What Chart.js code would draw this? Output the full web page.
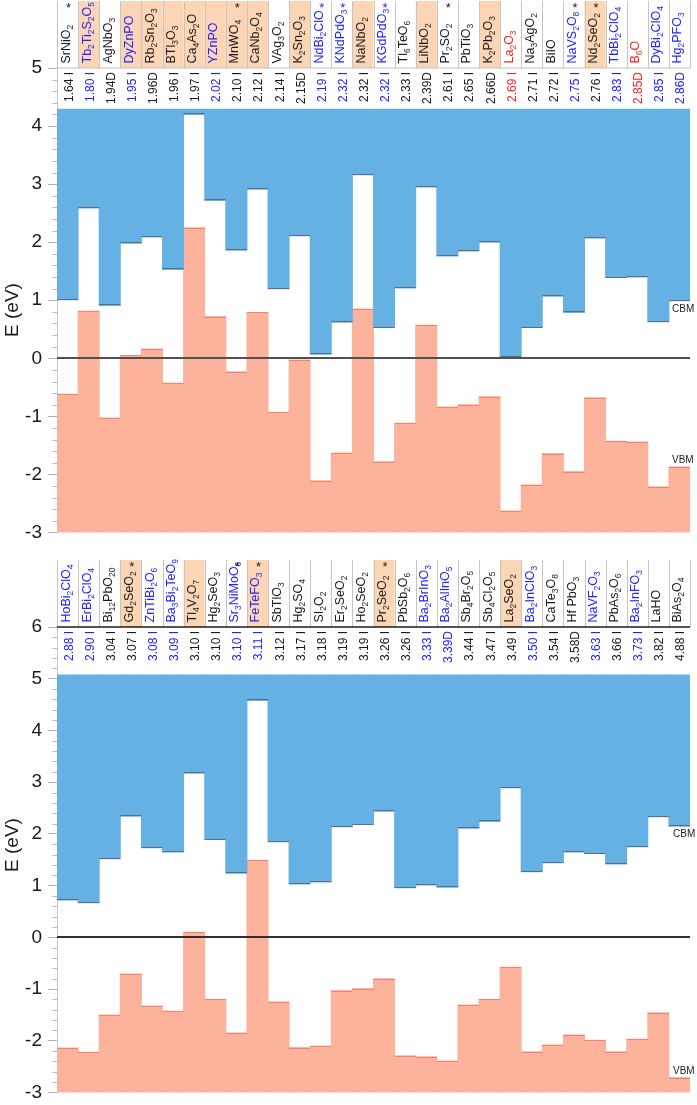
<!DOCTYPE html>
<html>
<head>
<meta charset="utf-8">
<script src="https://cdn.jsdelivr.net/npm/chart.js@4.4.1/dist/chart.umd.min.js"></script>
<style>
  html, body { margin: 0; padding: 0; background: #fff; overflow: hidden; }
  canvas { display: block; }
</style>
</head>
<body>
<canvas id="chartTop" width="697" height="548"></canvas>
<canvas id="chartBot" width="697" height="560"></canvas>
<script>
// panel 1: materials sorted by band gap
const namesTop = ["SrNiO2","Tb2Ti2S2O5","AgNbO3","DyZnPO","Rb2Sn2O3","BTl3O3","Ca4As2O","YZnPO","MnWO4","CaNb2O4",
  "VAg3O2","K2Sn2O3","NdBi2ClO","KNdPdO3","NaNbO2","KGdPdO3","Tl6TeO6","LiNbO2","Pr2SO2","PbTiO3",
  "K2Pb2O3","La2O3","Na3AgO2","BiIO","NaVS2O8","Nd2SeO2","TbBi2ClO4","B6O","DyBi2ClO4","Hg2PFO3"];
const gapTop = [1.64,1.80,1.94,1.95,1.96,1.96,1.97,2.02,2.10,2.12,2.14,2.15,2.19,2.32,2.32,2.32,2.33,2.39,2.61,2.65,
  2.66,2.69,2.71,2.72,2.75,2.76,2.83,2.85,2.85,2.86];
const gapTypeTop = ["I","I","D","I","D","I","I","I","I","I","I","D","I","I","I","I","I","D","I","I",
  "D","I","I","I","I","I","I","D","I","D"];
const cbmTop = [1.01,2.59,0.91,1.98,2.09,1.53,4.20,2.72,1.86,2.91,1.20,2.11,0.07,0.62,3.16,0.53,1.21,2.95,1.76,1.85,
  2.00,0.03,0.53,1.07,0.79,2.07,1.39,1.40,0.63,0.99];
const vbmTop = [-0.62,0.81,-1.03,0.05,0.16,-0.43,2.25,0.72,-0.23,0.79,-0.93,-0.03,-2.11,-1.63,0.85,-1.78,-1.12,0.57,-0.84,-0.80,
  -0.66,-2.63,-2.18,-1.64,-1.95,-0.68,-1.43,-1.44,-2.21,-1.87];
const groupTop = ["k","b","k","b","k","k","k","b","k","k","k","k","b","b","k","b","k","k","k","k",
  "k","r","k","k","b","k","b","r","b","b"];
const shadedTop = [0,1,0,1,1,1,1,1,1,1,0,1,0,0,1,0,0,1,0,0,1,0,0,0,0,1,0,0,0,0];
const starTop = ["k","","","","","","","","k","","","","b","b","","b","","","k","","","","","","k","k","","","",""];
const ticksTop = [-3,-2,-1,0,1,2,3,4,5];

// panel 2
const namesBot = ["HoBi2ClO4","ErBi2ClO4","Bi12PbO20","Gd2SeO2","ZnTiBi2O6","Ba3Bi2TeO9","Tl4V2O7","Hg2SeO3","Sr3NiMoO6","FeTeFO3",
  "SbTlO3","Hg2SO4","SI2O2","Er2SeO2","Ho2SeO2","Pr2SeO2","PbSb2O6","Ba2BrInO3","Ba2AlInO5","Sb4Br2O5",
  "Sb4Cl2O5","La2SeO2","Ba2InClO3","CaTe3O8","Hf PbO3","NaVF2O3","PbAs2O6","Ba2InFO3","LaHO","BiAs2O4"];
const gapBot = [2.88,2.90,3.04,3.07,3.08,3.09,3.10,3.10,3.10,3.11,3.12,3.17,3.18,3.19,3.19,3.26,3.26,3.33,3.39,3.44,
  3.47,3.49,3.50,3.54,3.58,3.63,3.66,3.73,3.82,4.88];
const gapTypeBot = ["I","I","I","I","I","I","I","I","I","I","I","I","I","I","I","I","I","I","D","I",
  "I","I","I","I","D","I","I","I","I","I"];
const cbmBot = [0.72,0.67,1.52,2.34,1.73,1.65,3.17,1.89,1.24,4.58,1.85,1.03,1.07,2.14,2.18,2.44,0.96,1.01,0.97,2.11,
  2.24,2.89,1.27,1.44,1.65,1.62,1.42,1.75,2.33,2.15];
const vbmBot = [-2.14,-2.22,-1.50,-0.71,-1.33,-1.43,0.10,-1.20,-1.85,1.49,-1.25,-2.13,-2.10,-1.03,-0.99,-0.80,-2.29,-2.31,-2.39,-1.31,
  -1.20,-0.58,-2.21,-2.08,-1.89,-1.99,-2.21,-1.97,-1.46,-2.71];
const groupBot = ["b","b","k","k","b","b","k","k","b","b","k","k","k","k","k","k","k","b","b","k",
  "k","k","b","k","k","b","k","b","k","k"];
const shadedBot = [0,0,0,1,0,0,1,0,0,1,0,0,0,0,0,1,0,0,0,0,0,1,0,0,0,0,0,0,0,0];
const starBot = ["","","","k","","","","","k","k","","","","","","k","","","","","","","","","","","","","",""];
const ticksBot = [-3,-2,-1,0,1,2,3,4,5,6];

const FONT = '"Liberation Sans", Arial, Helvetica, sans-serif';
const INK = { k: "#1a1a1a", b: "#2222ff", r: "#ff1e1e" };
const BLUE = "#66b1e3";
const SALMON = "#fdb29b";

// chemical formula, digits as subscripts, reading bottom to top
function drawFormula(ctx, text, xb, yb, color) {
    ctx.save();
    ctx.translate(xb, yb);
    ctx.rotate(-Math.PI / 2);
    ctx.fillStyle = color;
    ctx.textAlign = "left";
    ctx.textBaseline = "alphabetic";
    let pos = 0;
    text.match(/\d+|\D+/g).forEach(part => {
        const sub = /^\d+$/.test(part);
        ctx.font = (sub ? "8.5px " : "12.5px ") + FONT;
        ctx.fillText(part, pos, sub ? 3 : 0);
        pos += ctx.measureText(part).width;
    });
    ctx.restore();
}

function hline(ctx, x1, x2, y) {
    ctx.beginPath();
    ctx.moveTo(x1, y);
    ctx.lineTo(x2, y);
    ctx.stroke();
}

function decor(o) {
    return {
        id: "decor",
        afterDatasetsDraw(chart) {
            const ctx = chart.ctx, a = chart.chartArea, y = chart.scales.y;
            ctx.save();
            ctx.lineWidth = 1;
            // band edge lines, taken from the bar elements
            ctx.strokeStyle = "#5b6f80";
            chart.getDatasetMeta(0).data.forEach(el => {
                const yy = Math.round(Math.max(el.y, el.base)) - 0.5;
                hline(ctx, el.x - el.width / 2, el.x + el.width / 2, yy);
            });
            ctx.strokeStyle = "#f2846e";
            chart.getDatasetMeta(1).data.forEach(el => {
                const yy = Math.round(Math.min(el.y, el.base)) + 0.5;
                hline(ctx, el.x - el.width / 2, el.x + el.width / 2, yy);
            });
            // zero line
            ctx.strokeStyle = o.zeroColor;
            ctx.lineWidth = 2;
            hline(ctx, a.left, a.right, Math.round(y.getPixelForValue(0)));
            ctx.restore();
        },
        afterDraw(chart) {
            const ctx = chart.ctx, a = chart.chartArea, x = chart.scales.x, y = chart.scales.y;
            const n = o.names.length;
            const w = (a.right - a.left) / n;
            const hTop = a.top - 67;
            ctx.save();

            // header cells
            o.names.forEach((name, i) => {
                if (o.shaded[i]) {
                    ctx.fillStyle = "#fcd5b5";
                    ctx.fillRect(a.left + i * w, hTop, w, 67);
                }
            });
            ctx.strokeStyle = "#c4c4c4";
            ctx.lineWidth = 1;
            for (let i = 0; i <= n; i++) {
                const xx = Math.round(a.left + i * w) + 0.5;
                ctx.beginPath();
                ctx.moveTo(xx, hTop);
                ctx.lineTo(xx, a.top);
                ctx.stroke();
            }
            ctx.strokeStyle = o.headLine;
            ctx.lineWidth = o.headLineWidth;
            hline(ctx, a.left, a.right, a.top);

            o.names.forEach((name, i) => {
                const left = x.getPixelForValue(i) - w / 2;
                const col = INK[o.group[i]];
                drawFormula(ctx, name, left + 12.5, a.top - 4.5, col);
                if (o.star[i]) {
                    ctx.fillStyle = INK[o.star[i]];
                    ctx.font = "13px " + FONT;
                    ctx.textAlign = "center";
                    ctx.textBaseline = "top";
                    ctx.fillText("*", left + w / 2 + 1, hTop + 1);
                }
                // band gap value
                const label = o.gap[i].toFixed(2) + (o.gapType[i] === "D" ? "D" : " I");
                ctx.save();
                ctx.translate(left + 15.5, a.top + 4);
                ctx.rotate(-Math.PI / 2);
                ctx.fillStyle = col;
                ctx.font = "12px " + FONT;
                ctx.textAlign = "right";
                ctx.textBaseline = "alphabetic";
                ctx.fillText(label, 0, 0);
                ctx.restore();
            });

            // minor ticks
            ctx.strokeStyle = "#b8b8b8";
            ctx.lineWidth = 1;
            for (let k = Math.round(y.min * 5); k <= Math.round(y.max * 5); k++) {
                if (k % 5 === 0) continue;
                const yy = Math.round(y.getPixelForValue(k / 5)) + 0.5;
                ctx.beginPath();
                ctx.moveTo(a.left - 4.5, yy);
                ctx.lineTo(a.left, yy);
                ctx.stroke();
            }

            // CBM / VBM tags
            ctx.fillStyle = "#222";
            ctx.font = "10px " + FONT;
            ctx.textAlign = "left";
            ctx.textBaseline = "middle";
            ctx.fillText("CBM", o.tagX, y.getPixelForValue(o.cbmTag));
            ctx.fillText("VBM", o.tagX, y.getPixelForValue(o.vbmTag));

            // axis title
            ctx.save();
            ctx.translate(13, o.titleY);
            ctx.rotate(-Math.PI / 2);
            ctx.fillStyle = "#1a1a1a";
            ctx.font = "19px " + FONT;
            ctx.textAlign = "center";
            ctx.textBaseline = "middle";
            ctx.fillText("E (eV)", 0, 0);
            ctx.restore();

            ctx.restore();
        }
    };
}

function makeChart(id, o) {
    return new Chart(document.getElementById(id), {
        type: "bar",
        data: {
            labels: o.names,
            datasets: [
                { label: "CBM", data: o.cbm.map(v => [v, o.fillTop]), backgroundColor: BLUE },
                { label: "VBM", data: o.vbm.map(v => [o.ticks[0], v]), backgroundColor: SALMON }
            ]
        },
        options: {
            responsive: false,
            animation: false,
            layout: { padding: { top: o.padTop, bottom: o.padBottom, left: 0, right: 7 } },
            datasets: { bar: { grouped: false, categoryPercentage: 1, barPercentage: 1, borderWidth: 0, inflateAmount: 0.5 } },
            plugins: { legend: { display: false }, tooltip: { enabled: false } },
            scales: {
                x: { display: false },
                y: {
                    min: o.ticks[0],
                    max: o.ticks[o.ticks.length - 1],
                    afterFit: s => { s.width = 57; },
                    afterBuildTicks: s => { s.ticks = o.ticks.map(v => ({ value: v })); },
                    border: { display: true, color: "#c8c8c8", width: 1 },
                    grid: { drawOnChartArea: false, drawTicks: true, tickLength: 9, tickColor: "#b0b0b0" },
                    ticks: {
                        color: "#1a1a1a",
                        padding: 6,
                        font: { family: FONT, size: 19, lineHeight: 1 },
                        callback: v => String(v)
                    }
                }
            }
        },
        plugins: [decor(o)]
    });
}

document.addEventListener("DOMContentLoaded", function () {
    makeChart("chartTop", {
        names: namesTop, gap: gapTop, gapType: gapTypeTop, cbm: cbmTop, vbm: vbmTop,
        group: groupTop, shaded: shadedTop, star: starTop, ticks: ticksTop,
        fillTop: 4.29, padTop: 68, padBottom: 11,
        zeroColor: "#505050", headLine: "#c0c0c0", headLineWidth: 1,
        tagX: 672, cbmTag: 0.84, vbmTag: -1.75, titleY: 310
    });
    makeChart("chartBot", {
        names: namesBot, gap: gapBot, gapType: gapTypeBot, cbm: cbmBot, vbm: vbmBot,
        group: groupBot, shaded: shadedBot, star: starBot, ticks: ticksBot,
        fillTop: 5.07, padTop: 79, padBottom: 12,
        zeroColor: "#303030", headLine: "#1a1a1a", headLineWidth: 1.5,
        tagX: 673, cbmTag: 2.0, vbmTag: -2.59, titleY: 297
    });
});
</script>
</body>
</html>
